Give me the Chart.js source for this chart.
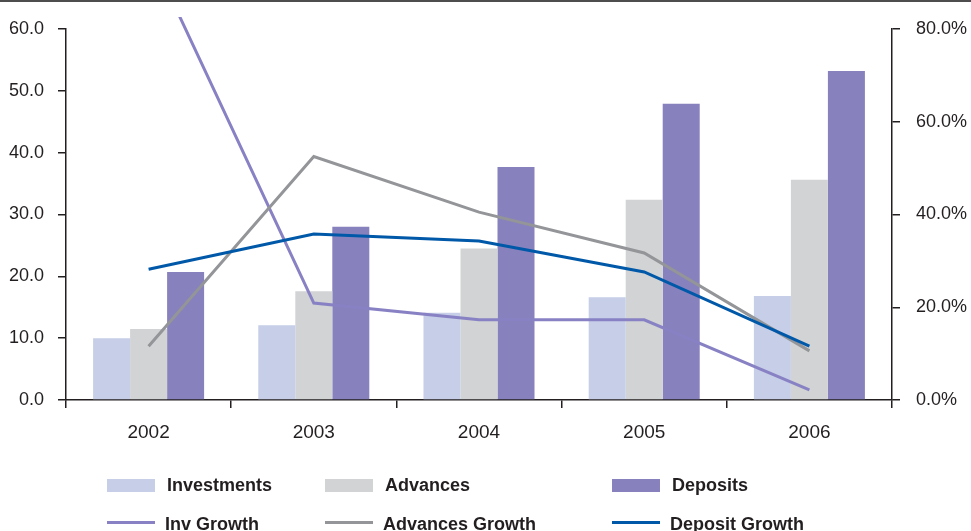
<!DOCTYPE html>
<html>
<head>
<meta charset="utf-8">
<script src="https://cdn.jsdelivr.net/npm/chart.js@4.4.1/dist/chart.umd.min.js"></script>
<style>
  html, body { margin: 0; padding: 0; background: #ffffff; }
  #wrap { position: relative; width: 971px; height: 531px; overflow: hidden; background: #ffffff; }
  #topRule { position: absolute; left: 0; top: 0; width: 971px; height: 2px; background: #4d4d4d; }
  #chart { position: absolute; left: 0; top: 0; }
  .lg { position: absolute; font: bold 18px "Liberation Sans", Arial, sans-serif; color: #231f20; white-space: nowrap; }
  .lg .sw { position: absolute; }
  .lg .tx { position: absolute; line-height: 20px; }
</style>
</head>
<body>
<div id="wrap">
  <canvas id="chart" width="971" height="531"></canvas>
  <div id="topRule"></div>
  <div id="legend"></div>
</div>
<script>
// Years on the category axis
const years = ['2002', '2003', '2004', '2005', '2006'];

// Balances (left axis)
const investments = [10.0, 12.1, 14.1, 16.6, 16.8];
const advances    = [11.5, 17.6, 24.5, 32.4, 35.6];
const deposits    = [20.7, 28.0, 37.7, 47.9, 53.2];

// Year-on-year growth, percent (right axis)
const invGrowth      = [97.0, 20.9, 17.3, 17.3, 2.2];
const advancesGrowth = [11.6, 52.5, 40.5, 31.7, 10.6];
const depositGrowth  = [28.2, 35.8, 34.3, 27.6, 11.6];

// Axis ranges and tick steps
const leftAxis  = { min: 0, max: 60, step: 10 };
const rightAxis = { min: 0, max: 80, step: 20 };

const INK = '#231f20';
const FONT = '"Liberation Sans", Arial, sans-serif';

const lineStyle = (label, data, color, order) => ({
  type: 'line', label, data, yAxisID: 'yR',
  borderColor: color, backgroundColor: color, borderWidth: 3,
  pointRadius: 0, pointHoverRadius: 0, tension: 0, order,
  clip: { left: 0, top: 12, right: 0, bottom: 0 }
});

const barStyle = (label, data, color) => ({
  type: 'bar', label, data, yAxisID: 'yL',
  backgroundColor: color, borderWidth: 0, order: 10,
  barPercentage: 1.0, categoryPercentage: 0.672
});

const chart = new Chart(document.getElementById('chart'), {
  data: {
    labels: years,
    datasets: [
      barStyle('Investments', investments, '#c6cee8'),
      barStyle('Advances', advances, '#d1d3d4'),
      barStyle('Deposits', deposits, '#8781bd'),
      lineStyle('Inv Growth', invGrowth, '#8882c4', 3),
      lineStyle('Advances Growth', advancesGrowth, '#939598', 2),
      lineStyle('Deposit Growth', depositGrowth, '#0058a8', 1)
    ]
  },
  options: {
    responsive: false,
    animation: false,
    layout: { padding: { left: 0, right: 0, top: 29, bottom: 0 } },
    plugins: { legend: { display: false }, tooltip: { enabled: false } },
    scales: {
      x: {
        type: 'category',
        offset: true,
        grid: { display: true, offset: true, drawOnChartArea: false, drawTicks: true,
                tickLength: 8, color: INK, lineWidth: 1.5 },
        border: { display: true, color: INK, width: 1.5 },
        ticks: { color: INK, font: { family: FONT, size: 19 }, padding: 13 },
        afterFit: s => { s.height = 131; }
      },
      yL: {
        type: 'linear', position: 'left',
        min: leftAxis.min, max: leftAxis.max,
        grid: { display: true, drawOnChartArea: false, drawTicks: true, tickLength: 8,
                color: INK, lineWidth: 1.5 },
        border: { display: true, color: INK, width: 1.5 },
        ticks: { stepSize: leftAxis.step, color: INK, font: { family: FONT, size: 18 },
                 padding: 14, callback: v => v.toFixed(1) },
        afterFit: s => { s.width = 66; }
      },
      yR: {
        type: 'linear', position: 'right',
        min: rightAxis.min, max: rightAxis.max,
        grid: { display: true, drawOnChartArea: false, drawTicks: true, tickLength: 8,
                color: INK, lineWidth: 1.5 },
        border: { display: true, color: INK, width: 1.5 },
        ticks: { stepSize: rightAxis.step, color: INK, font: { family: FONT, size: 18 },
                 padding: 16, callback: v => v.toFixed(1) + '%' },
        afterFit: s => { s.width = 79; }
      }
    }
  }
});

// Legend: bars on the first row, growth lines on the second, three columns
const legendCols = [107, 325, 612];
const legendRows = [{ top: 478, swH: 13, swTop: 1, txTop: -3 }, { top: 514, swH: 3, swTop: 7, txTop: 0 }];
const legend = document.getElementById('legend');
chart.data.datasets.forEach((ds, i) => {
  const row = ds.type === 'bar' ? legendRows[0] : legendRows[1];
  const col = legendCols[i % 3];
  const item = document.createElement('div');
  item.className = 'lg';
  item.style.left = col + 'px';
  item.style.top = row.top + 'px';
  const sw = document.createElement('div');
  sw.className = 'sw';
  sw.style.left = '0px';
  sw.style.top = row.swTop + 'px';
  sw.style.width = '48px';
  sw.style.height = row.swH + 'px';
  sw.style.background = ds.type === 'bar' ? ds.backgroundColor : ds.borderColor;
  const tx = document.createElement('div');
  tx.className = 'tx';
  tx.style.left = (ds.type === 'bar' ? 60 : 58) + 'px';
  tx.style.top = row.txTop + 'px';
  tx.textContent = ds.label;
  item.appendChild(sw);
  item.appendChild(tx);
  legend.appendChild(item);
});
</script>
</body>
</html>
